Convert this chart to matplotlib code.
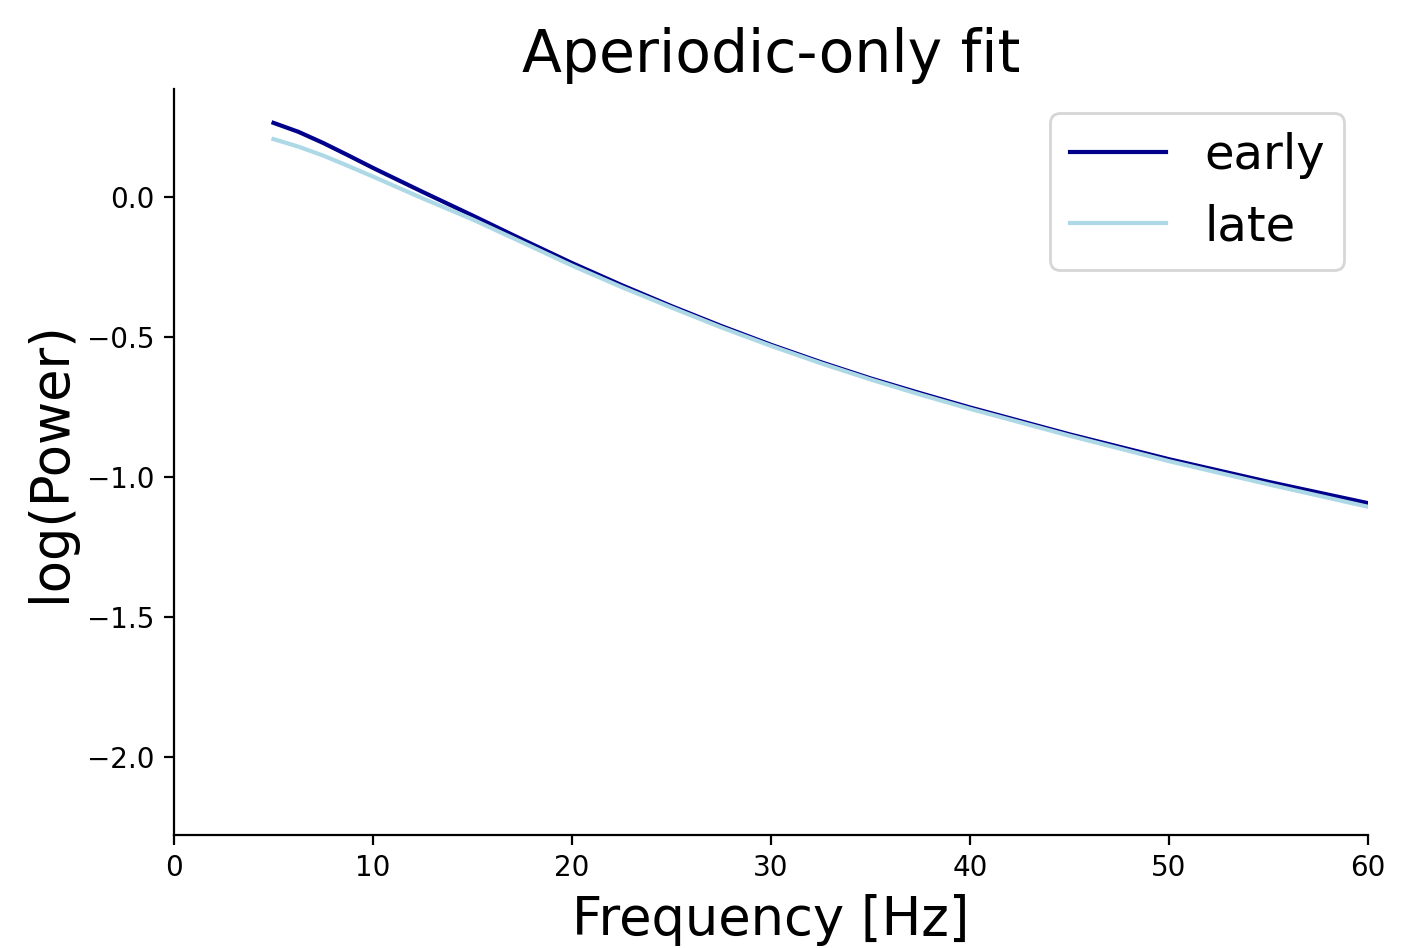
import numpy as np
import matplotlib
matplotlib.use("Agg")
import matplotlib.pyplot as plt

# values
freqs = [5, 6.25, 7.5, 8.75, 10, 12.5, 15, 17.5, 20, 22.5, 25, 27.5, 30,
         32.5, 35, 37.5, 40, 45, 50, 55, 60]
early = [0.265, 0.233, 0.193, 0.149, 0.104, 0.018, -0.066, -0.152, -0.236,
         -0.315, -0.390, -0.461, -0.528, -0.590, -0.648, -0.701, -0.752,
         -0.848, -0.937, -1.018, -1.094]
late = [0.207, 0.180, 0.148, 0.111, 0.073, -0.005, -0.080, -0.162, -0.245,
        -0.322, -0.395, -0.466, -0.532, -0.594, -0.652, -0.706, -0.757,
        -0.853, -0.944, -1.027, -1.107]


def plot_fit():
  dpi = 200
  fig = plt.figure(figsize=(1423 / dpi, 948 / dpi), dpi=dpi)
  ax = fig.add_axes([174 / 1423, 1 - 835 / 948, (1368 - 174) / 1423, (835 - 89) / 948])
  ax.plot(freqs, early, color="darkblue", lw=1.5, label="early")
  ax.plot(freqs, late, color="lightblue", lw=1.5, label="late")
  ax.set_xlim(0, 60)
  ax.set_ylim(-2.28, 0.386)
  ax.spines["top"].set_visible(False)
  ax.spines["right"].set_visible(False)
  ax.tick_params(labelsize=10)
  ax.set_title("Aperiodic-only fit", fontsize=21)
  ax.set_xlabel("Frequency [Hz]", fontsize=19)
  ax.set_ylabel("log(Power)", fontsize=19)
  ax.legend(fontsize=17.3, loc="upper right")
  fig.savefig("out.png", dpi=dpi)


if __name__ == "__main__":
  plot_fit()
